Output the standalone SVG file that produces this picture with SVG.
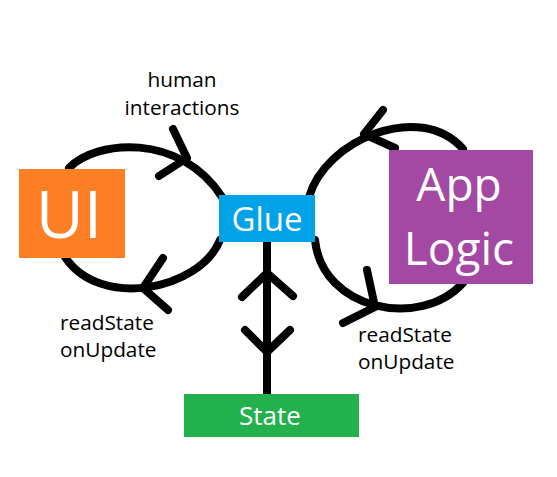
<svg xmlns="http://www.w3.org/2000/svg" width="557" height="477" viewBox="0 0 557 477">
<style>
.box-text{font-family:"Open Sans","Noto Sans","DejaVu Sans",sans-serif;fill:#ffffff;text-anchor:middle}
.label{font-family:"Open Sans","Noto Sans","DejaVu Sans",sans-serif;fill:#000000;font-size:20.8px}
.conn{fill:none;stroke:#000000;stroke-width:8;stroke-linecap:round;stroke-linejoin:round}
</style>
<rect width="557" height="477" fill="#ffffff"/>
<g id="connectors">
<path class="conn" d="M69,168 C95,140 180,132 222,197"/>
<path class="conn" d="M173,129 L187,158 L159,176"/>
<path class="conn" d="M220,240 C200,290 100,310 65,257"/>
<path class="conn" d="M163,258 L143,288 L168,310"/>
<path class="conn" d="M309,197 C325,140 420,100 463,149"/>
<path class="conn" d="M383,110 L364,134 L395,148"/>
<path class="conn" d="M315,240 C322,310 420,330 463,283"/>
<path class="conn" d="M367,270 L375,307 L343,323"/>
<path class="conn" d="M267,240 L267,398"/>
<path class="conn" d="M242,297 L267,273 L293,296"/>
<path class="conn" d="M245,330 L267,352 L290,330"/>
</g>
<g id="node-ui">
<rect x="19" y="169" width="106" height="89" fill="#FF7F27"/>
<text class="box-text" x="69" y="238" font-size="66">UI</text>
</g>
<g id="node-glue">
<rect x="219" y="195" width="96" height="47" fill="#00A2E8"/>
<text class="box-text" x="267" y="231" font-size="33">Glue</text>
</g>
<g id="node-applogic">
<rect x="389" y="150" width="144" height="134" fill="#A349A4"/>
<text class="box-text" x="459" y="201" font-size="46">App</text>
<text class="box-text" x="459" y="265" font-size="46">Logic</text>
</g>
<g id="node-state">
<rect x="184" y="394" width="175" height="43" fill="#22B14C"/>
<text class="box-text" x="270" y="425" font-size="26">State</text>
</g>
<g id="labels">
<text class="label" x="182" y="87" text-anchor="middle">human</text>
<text class="label" x="182" y="115" text-anchor="middle">interactions</text>
<text class="label" x="60" y="330">readState</text>
<text class="label" x="60" y="357">onUpdate</text>
<text class="label" x="358" y="342">readState</text>
<text class="label" x="358" y="369">onUpdate</text>
</g>
</svg>
